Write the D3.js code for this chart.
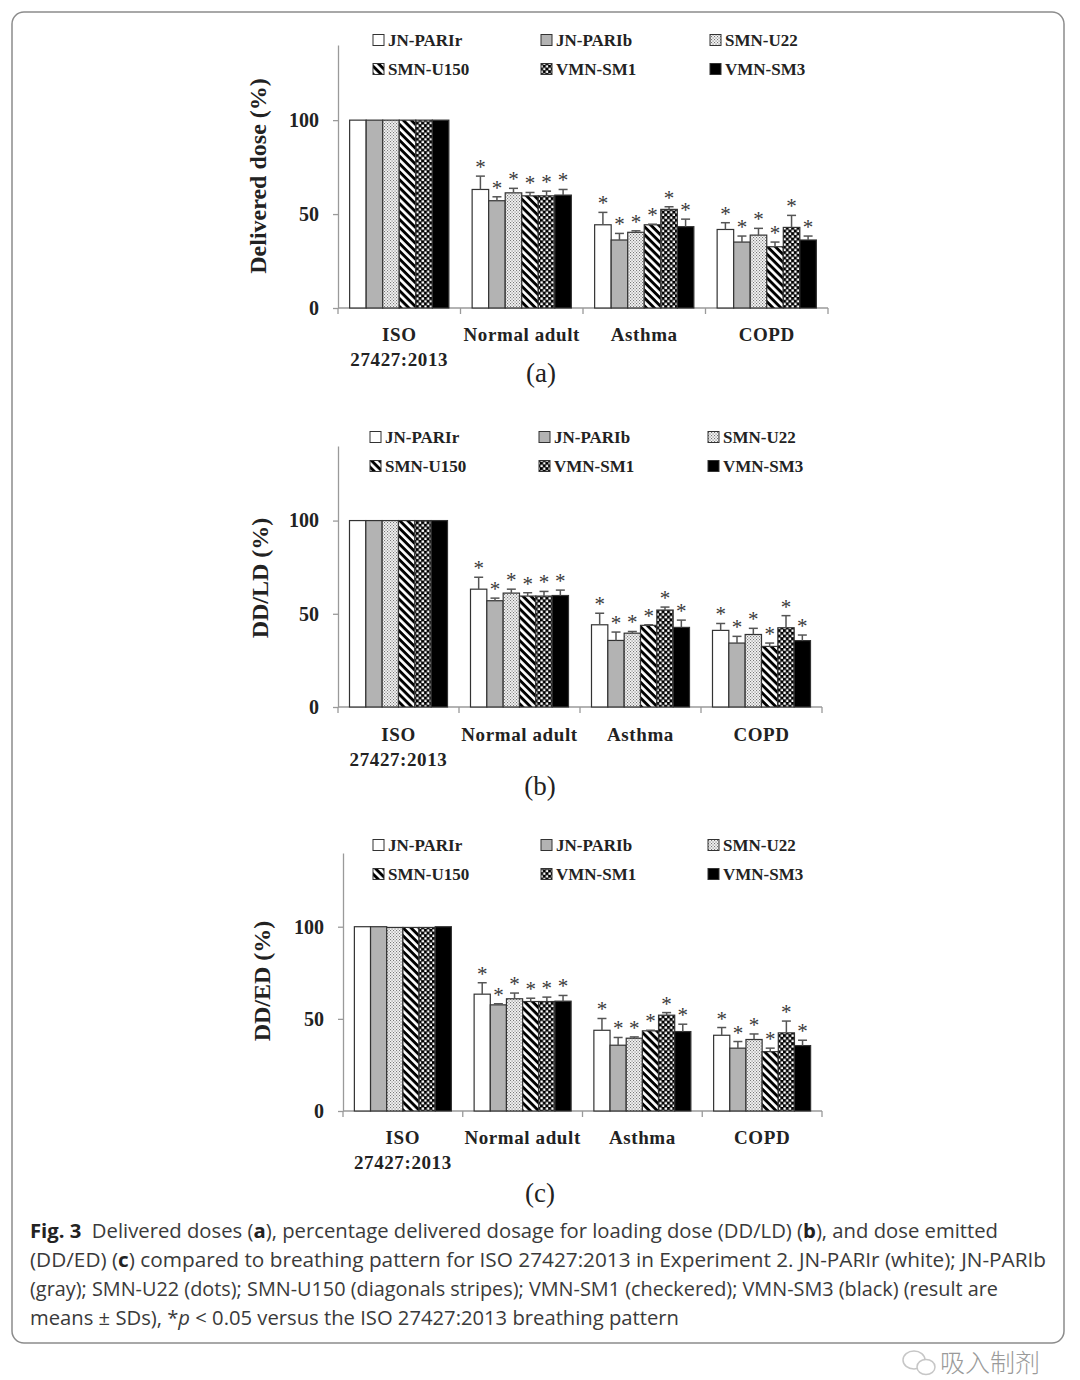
<!DOCTYPE html>
<html><head><meta charset="utf-8">
<script src="https://cdn.jsdelivr.net/npm/d3@7"></script>
<style>body{margin:0;background:#fff}</style>
</head><body><svg id="chart" width="1080" height="1380"></svg>
<script>
// ---------- data ----------
const categories = ["ISO 27427:2013", "Normal adult", "Asthma", "COPD"];
const categoryLines = [["ISO", "27427:2013"], ["Normal adult"], ["Asthma"], ["COPD"]];
const series = ["JN-PARIr", "JN-PARIb", "SMN-U22", "SMN-U150", "VMN-SM1", "VMN-SM3"];
const yTicks = [0, 50, 100];
const panelLetters = ["(a)", "(b)", "(c)"];
const yTitles = ["Delivered dose (%)", "DD/LD (%)", "DD/ED (%)"];

// (a) Delivered dose, rows = categories, cols = series
const ddMean = [
  [100, 100, 100, 100, 100, 100],
  [63.1, 57.1, 61.3, 59.7, 59.7, 60.1],
  [44.3, 36.2, 40.3, 44.3, 52.5, 43.3],
  [41.8, 35.1, 38.8, 32.6, 42.9, 36.2]
];
const ddSD = [
  [0, 0, 0, 0, 0, 0],
  [7.1, 2.1, 2.4, 1.8, 2.5, 3.0],
  [6.6, 3.5, 0.8, 0.3, 1.4, 4.0],
  [3.6, 3.2, 3.6, 2.5, 6.4, 2.1]
];
// (b) DD/LD
const ddldMean = [
  [100, 100, 100, 100, 100, 100],
  [63.2, 57.0, 61.1, 59.5, 59.5, 59.8],
  [44.1, 35.7, 39.6, 43.8, 52.0, 42.7],
  [41.1, 34.3, 38.9, 32.5, 42.5, 35.6]
];
const ddldSD = [
  [0, 0, 0, 0, 0, 0],
  [6.4, 1.4, 2.1, 1.8, 2.5, 2.9],
  [6.2, 4.5, 0.9, 0.3, 1.6, 3.9],
  [3.7, 3.6, 3.3, 1.8, 6.5, 3.0]
];
// (c) DD/ED
const ddedMean = [
  [100, 100, 99.6, 99.6, 99.6, 100],
  [63.4, 57.6, 60.9, 59.4, 59.4, 59.6],
  [43.8, 35.7, 39.5, 43.5, 52.0, 43.1],
  [41.1, 34.1, 38.8, 32.2, 42.4, 35.5]
];
const ddedSD = [
  [0, 0, 0, 0, 0, 0],
  [6.2, 0.6, 3.1, 1.8, 2.4, 3.1],
  [6.4, 4.2, 0.7, 0.3, 1.4, 4.0],
  [4.2, 3.6, 3.0, 1.9, 6.4, 2.9]
];
const panelMeans = [ddMean, ddldMean, ddedMean];
const panelSDs = [ddSD, ddldSD, ddedSD];

// ---------- layout ----------
const svg = d3.select("#chart");
svg.append("rect").attr("width", 1080).attr("height", 1380).attr("fill", "#fff");
const SERIF = "'Liberation Serif','DejaVu Serif',serif";

const defs = svg.append("defs");
// dots
const pDots = defs.append("pattern").attr("id", "pat2").attr("patternUnits", "userSpaceOnUse")
  .attr("width", 3).attr("height", 3);
pDots.append("rect").attr("width", 3).attr("height", 3).attr("fill", "#f4f4f4");
pDots.append("rect").attr("x", 0).attr("y", 0).attr("width", 1.1).attr("height", 1.1).attr("fill", "#777");
pDots.append("rect").attr("x", 1.5).attr("y", 1.5).attr("width", 1.1).attr("height", 1.1).attr("fill", "#777");
// stripes
const pStr = defs.append("pattern").attr("id", "pat3").attr("patternUnits", "userSpaceOnUse")
  .attr("width", 5.6).attr("height", 5.6).attr("patternTransform", "rotate(45)");
pStr.append("rect").attr("width", 5.6).attr("height", 5.6).attr("fill", "#fff");
pStr.append("rect").attr("width", 5.6).attr("height", 2.9).attr("fill", "#000");
// checker
const pChk = defs.append("pattern").attr("id", "pat4").attr("patternUnits", "userSpaceOnUse")
  .attr("width", 5.4).attr("height", 5.4);
pChk.append("rect").attr("width", 5.4).attr("height", 5.4).attr("fill", "#000");
pChk.append("rect").attr("x", 0.4).attr("y", 0.4).attr("width", 2.4).attr("height", 2.4).attr("fill", "#fff");
pChk.append("rect").attr("x", 3.1).attr("y", 3.1).attr("width", 2.4).attr("height", 2.4).attr("fill", "#fff");

const fills = ["#ffffff", "#b3b3b3", "url(#pat2)", "url(#pat3)", "url(#pat4)", "#000000"];
const fillScale = d3.scaleOrdinal().domain(series).range(fills);

const panels = [
  {x0: 338, x1: 828, y0: 308, yTop: 45, legY: 40, legX: [373, 541, 710], ytX: 258, ytY: 176, catY: 341, subY: 382, subX: 541},
  {x0: 338, x1: 822, y0: 707, yTop: 446, legY: 437, legX: [370, 539, 708], ytX: 260, ytY: 578, catY: 741, subY: 795, subX: 540},
  {x0: 343, x1: 822, y0: 1111, yTop: 853, legY: 845, legX: [373, 541, 708], ytX: 262, ytY: 981, catY: 1144, subY: 1202, subX: 540}
];

panels.forEach((p, pi) => {
  const g = svg.append("g");
  const means = panelMeans[pi], sds = panelSDs[pi];
  const y = d3.scaleLinear().domain([0, 140]).range([p.y0, p.yTop]);
  const x = d3.scaleBand().domain(categories).range([p.x0, p.x1]).paddingInner(0.19).paddingOuter(0.095);
  const xs = d3.scaleBand().domain(series).range([0, x.bandwidth()]);
  const step = x.step();

  // y axis
  const yAx = g.append("g").attr("transform", `translate(${p.x0},0)`)
    .call(d3.axisLeft(y).tickValues(yTicks).tickSize(5).tickSizeOuter(0).tickPadding(14));
  yAx.select(".domain").attr("stroke", "#9a9a9a").attr("stroke-width", 1.3);
  yAx.selectAll(".tick line").attr("stroke", "#9a9a9a").attr("stroke-width", 1.3);
  yAx.selectAll(".tick text").attr("font-family", SERIF).attr("font-size", 20).attr("font-weight", "bold").attr("fill", "#222");

  // x axis line and boundary ticks
  g.append("line").attr("x1", p.x0).attr("x2", p.x1).attr("y1", p.y0).attr("y2", p.y0)
    .attr("stroke", "#9a9a9a").attr("stroke-width", 1.3);
  const bounds = categories.map(c => x(c) - x.paddingOuter() * step).concat([p.x1]);
  g.selectAll(".xt").data(bounds).join("line")
    .attr("x1", d => d).attr("x2", d => d).attr("y1", p.y0).attr("y2", p.y0 + 6)
    .attr("stroke", "#9a9a9a").attr("stroke-width", 1.3);

  // bars
  const flat = [];
  categories.forEach((c, ci) => series.forEach((s, si) => flat.push({c, s, m: means[ci][si], sd: sds[ci][si], ci})));
  g.selectAll(".bar").data(flat).join("rect")
    .attr("x", d => x(d.c) + xs(d.s)).attr("width", xs.bandwidth())
    .attr("y", d => y(d.m)).attr("height", d => y(0) - y(d.m))
    .attr("fill", d => fillScale(d.s)).attr("stroke", "#333").attr("stroke-width", 1.2);

  // error bars (positive only)
  const eb = flat.filter(d => d.sd > 0);
  g.selectAll(".ev").data(eb).join("line")
    .attr("x1", d => x(d.c) + xs(d.s) + xs.bandwidth() / 2).attr("x2", d => x(d.c) + xs(d.s) + xs.bandwidth() / 2)
    .attr("y1", d => y(d.m)).attr("y2", d => y(d.m + d.sd)).attr("stroke", "#555").attr("stroke-width", 1.5);
  g.selectAll(".ec").data(eb).join("line")
    .attr("x1", d => x(d.c) + xs(d.s) + xs.bandwidth() / 2 - 4.5).attr("x2", d => x(d.c) + xs(d.s) + xs.bandwidth() / 2 + 4.5)
    .attr("y1", d => y(d.m + d.sd)).attr("y2", d => y(d.m + d.sd)).attr("stroke", "#555").attr("stroke-width", 1.5);
  // significance stars
  g.selectAll(".star").data(flat.filter(d => d.ci > 0)).join("text")
    .attr("x", d => x(d.c) + xs(d.s) + xs.bandwidth() / 2)
    .attr("y", d => y(d.m + d.sd) - 2)
    .attr("text-anchor", "middle").attr("font-family", SERIF).attr("font-size", 21).attr("fill", "#3a3a3a")
    .text("*");

  // category labels
  categories.forEach((c, ci) => {
    const cx = x(c) + x.bandwidth() / 2;
    categoryLines[ci].forEach((line, li) => {
      g.append("text").attr("x", cx).attr("y", p.catY + li * 25).attr("text-anchor", "middle")
        .attr("font-family", SERIF).attr("font-size", 19).attr("font-weight", "bold")
        .attr("letter-spacing", 0.6).attr("fill", "#222").text(line);
    });
  });

  // y title
  g.append("text").attr("transform", `translate(${p.ytX + 8},${p.ytY}) rotate(-90)`)
    .attr("text-anchor", "middle").attr("font-family", SERIF).attr("font-size", 24).attr("font-weight", "bold")
    .attr("fill", "#222").text(yTitles[pi]);

  // panel letter
  g.append("text").attr("x", p.subX).attr("y", p.subY).attr("text-anchor", "middle")
    .attr("font-family", SERIF).attr("font-size", 27).attr("fill", "#222").text(panelLetters[pi]);

  // legend
  series.forEach((s, si) => {
    const col = si % 3, row = Math.floor(si / 3);
    const lx = p.legX[col], ly = p.legY + row * 29;
    g.append("rect").attr("x", lx).attr("y", ly - 5.5).attr("width", 11).attr("height", 11)
      .attr("fill", fillScale(s)).attr("stroke", "#333").attr("stroke-width", 1);
    g.append("text").attr("x", lx + 15).attr("y", ly + 6).attr("font-family", SERIF)
      .attr("font-size", 17).attr("font-weight", "bold").attr("fill", "#222").text(s);
  });
});

// ---------- frame and caption ----------
svg.append("rect").attr("x", 12).attr("y", 12).attr("width", 1052).attr("height", 1331).attr("rx", 12)
  .attr("fill", "none").attr("stroke", "#8c8c8c").attr("stroke-width", 1.5);

const CAP = "'Open Sans','Noto Sans',sans-serif";
const capLines = [
  {y: 1238, len: 968, parts: [["Fig. 3", "b"], ["  Delivered doses (", ""], ["a", "b"], ["), percentage delivered dosage for loading dose (DD/LD) (", ""], ["b", "b"], ["), and dose emitted", ""]]},
  {y: 1267, len: 1016, parts: [["(DD/ED) (", ""], ["c", "b"], [") compared to breathing pattern for ISO 27427:2013 in Experiment 2. JN-PARIr (white); JN-PARIb", ""]]},
  {y: 1296, len: 968, parts: [["(gray); SMN-U22 (dots); SMN-U150 (diagonals stripes); VMN-SM1 (checkered); VMN-SM3 (black) (result are", ""]]},
  {y: 1325, len: 649, parts: [["means \u00b1 SDs), *", ""], ["p", "i"], [" < 0.05 versus the ISO 27427:2013 breathing pattern", ""]]}
];
capLines.forEach(l => {
  const t = svg.append("text").attr("x", 30).attr("y", l.y).attr("font-family", CAP).attr("font-size", 20)
    .attr("fill", "#3a3a3a").attr("textLength", l.len).attr("lengthAdjust", "spacingAndGlyphs")
    .attr("xml:space", "preserve").style("white-space", "pre");
  l.parts.forEach(([txt, st]) => {
    const ts = t.append("tspan").text(txt);
    if (st === "b") ts.attr("font-weight", "bold").attr("fill", "#222");
    if (st === "i") ts.attr("font-style", "italic");
  });
});

// watermark
const wm = svg.append("g").attr("opacity", 0.55);
wm.append("ellipse").attr("cx", 914).attr("cy", 1360).attr("rx", 11).attr("ry", 9).attr("fill", "none").attr("stroke", "#999").attr("stroke-width", 1.5);
wm.append("ellipse").attr("cx", 926).attr("cy", 1367).attr("rx", 9).attr("ry", 7.5).attr("fill", "#fff").attr("stroke", "#999").attr("stroke-width", 1.5);
svg.append("text").attr("x", 940).attr("y", 1372).attr("font-family", "'Noto Sans CJK SC',sans-serif")
  .attr("font-size", 25).attr("fill", "#9a9a9a").attr("font-weight", 300).text("吸入制剂");
</script>
</body></html>
